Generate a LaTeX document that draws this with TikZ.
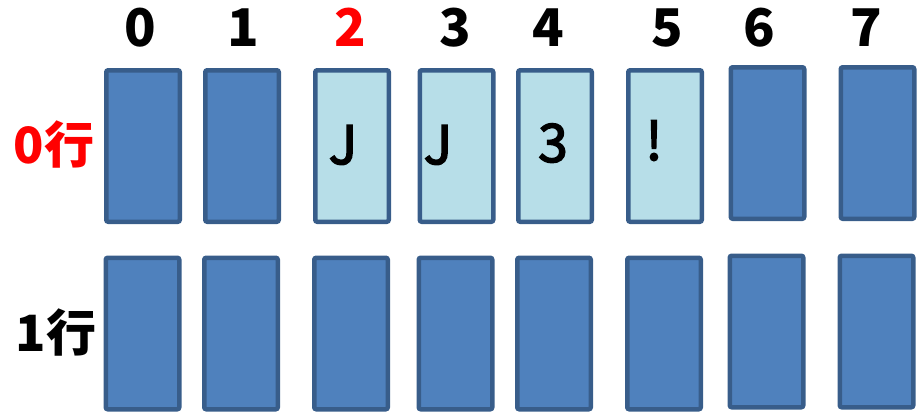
\documentclass[tikz,border=0pt]{standalone}
\usepackage{fontspec}
\setmainfont{Noto Sans CJK SC}
\newfontfamily\cellfont[FakeBold=3]{Noto Sans CJK SC}
\usetikzlibrary{positioning}
\definecolor{cellBlue}{RGB}{79,129,189}
\definecolor{cellLight}{RGB}{183,222,232}
\definecolor{cellEdge}{RGB}{56,93,138}
\definecolor{markRed}{RGB}{255,0,0}
\tikzset{
  cell/.style={draw=cellEdge, line width=4.5pt, rounded corners=2pt, fill=cellBlue,
    inner sep=0pt, minimum width=73.5pt, minimum height=151.5pt},
  usedcell/.style={cell, fill=cellLight},
  idx/.style={font=\fontsize{52}{60}\selectfont\bfseries, anchor=base, inner sep=0pt},
  rowlabel/.style={font=\fontsize{50}{58}\selectfont\bfseries, anchor=base, inner sep=0pt},
  ch/.style={font=\fontsize{53}{60}\selectfont\cellfont, anchor=base, inner sep=0pt}
}
\begin{document}
\begin{tikzpicture}[x=1pt,y=-1pt]
\useasboundingbox (0,0) rectangle (924,413);
% column numbers
\foreach \i/\x/\c in {0/140/black,1/243/black,2/350/markRed,3/455/black,4/548/black,5/667/black,6/759/black,7/866/black}
{
\node[idx, text=\c] (n\i) at (\x,46) {\i};
}
% row 0
\foreach \i/\x/\y/\s in {0/143/146/cell,1/242/146/cell,2/352/146/usedcell,3/456.5/146/usedcell,4/555/146/usedcell,5/665/146/usedcell,6/767.5/143/cell,7/877.5/143/cell}
{
\node[\s] (a\i) at (\x,\y) {};
}
% row 1
\foreach \i/\x/\y in {0/142.5/333.5,1/241/333.5,2/351/333.5,3/455.5/333.5,4/554/333.5,5/664/333.5,6/766.5/331.5,7/876.5/331.5}
{
\node[cell] (b\i) at (\x,\y) {};
}
\node[ch] (c2) at (343,164) {J};
\node[ch] (c3) at (438,164) {J};
\node[ch] (c4) at (553,162) {3};
\node[ch] (c5) at (654,160) {!};
\node[rowlabel, text=markRed] (r0) at (54,163) {0行};
\node[rowlabel] (r1) at (56,351) {1行};
\end{tikzpicture}
\end{document}
